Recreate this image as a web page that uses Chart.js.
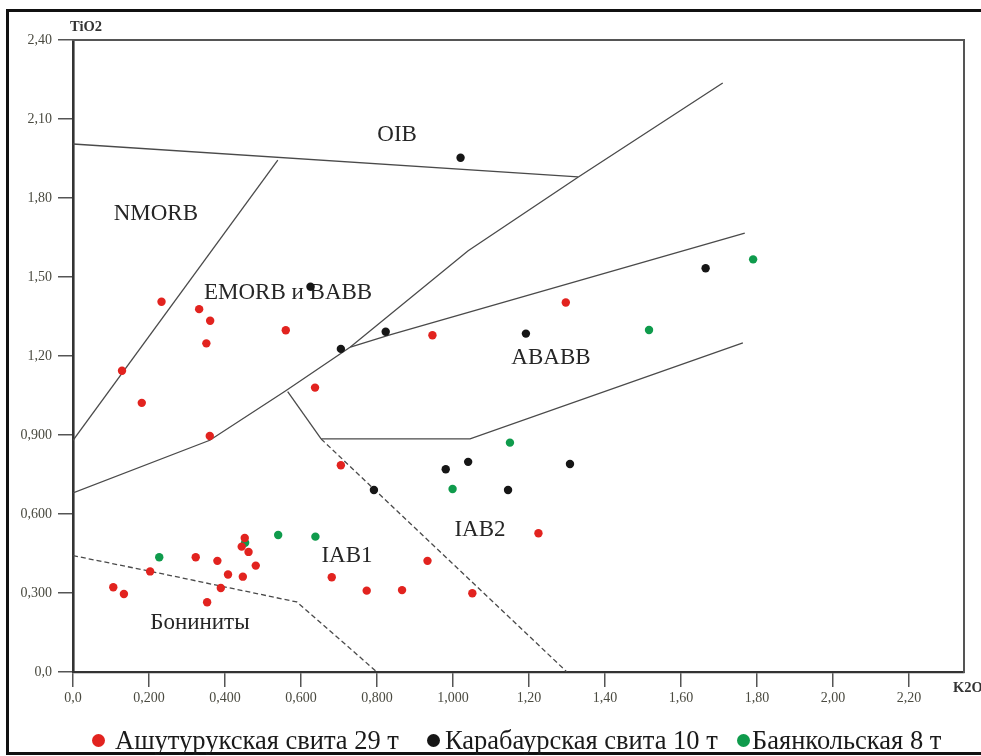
<!DOCTYPE html>
<html>
<head>
<meta charset="utf-8">
<title>K2O – TiO2</title>
<script src="https://cdn.jsdelivr.net/npm/chart.js@4.4.1/dist/chart.umd.min.js"></script>
<style>
  html, body { margin: 0; padding: 0; background: #fff; overflow: hidden; }
  #wrap { position: relative; width: 981px; height: 756px; }
  #frame { position: absolute; left: 6px; top: 9px; width: 1200px; height: 740px; border: 3px solid #111; pointer-events: none; }
  #legend { position: absolute; left: 0; top: 725px; width: 981px; height: 30px;
            font-family: "Liberation Serif", "DejaVu Serif", serif; font-size: 26.5px; color: #1a1a1a; }
  .txt { position: absolute; top: 0; white-space: nowrap; line-height: 30px; }
  .dot { position: absolute; top: 9px; width: 13px; height: 13px; border-radius: 50%; }
</style>
</head>
<body>
<div id="wrap">
  <canvas id="c"></canvas>
  <div id="frame"></div>
  <div id="legend"></div>
</div>
<script>
// Axis ticks (values and their printed labels)
const xTickValues = [0, 0.2, 0.4, 0.6, 0.8, 1.0, 1.2, 1.4, 1.6, 1.8, 2.0, 2.2];
const xTickLabels = ['0,0', '0,200', '0,400', '0,600', '0,800', '1,000', '1,20', '1,40', '1,60', '1,80', '2,00', '2,20'];
const yTickValues = [0, 0.3, 0.6, 0.9, 1.2, 1.5, 1.8, 2.1, 2.4];
const yTickLabels = ['0,0', '0,300', '0,600', '0,900', '1,20', '1,50', '1,80', '2,10', '2,40'];

// Ашутурукская свита
const ashK2O  = [0.233, 0.332, 0.361, 0.351, 0.560, 0.129, 0.181, 0.360, 0.637, 0.946, 1.297,
                 0.106, 0.134, 0.203, 0.323, 0.380, 0.389, 0.353, 0.408, 0.447, 0.444, 0.452, 0.462, 0.481,
                 0.681, 0.773, 0.866, 0.933, 1.051, 1.225, 0.705];
const ashTiO2 = [1.406, 1.378, 1.334, 1.248, 1.298, 1.144, 1.022, 0.896, 1.080, 1.279, 1.403,
                 0.322, 0.296, 0.382, 0.436, 0.422, 0.319, 0.265, 0.370, 0.362, 0.476, 0.509, 0.456, 0.404,
                 0.360, 0.309, 0.311, 0.422, 0.299, 0.527, 0.785];

// Карабаурская свита
const karK2O  = [1.020, 0.625, 0.823, 0.705, 1.192, 1.665, 0.981, 1.040, 1.308, 1.145, 0.792];
const karTiO2 = [1.953, 1.463, 1.292, 1.227, 1.285, 1.533, 0.770, 0.798, 0.790, 0.691, 0.691];

// Баянкольская
const bayK2O  = [0.227, 0.540, 0.638, 0.453, 1.150, 0.999, 1.516, 1.790];
const bayTiO2 = [0.436, 0.520, 0.514, 0.491, 0.871, 0.695, 1.299, 1.567];

// Field boundaries, [K2O, TiO2] vertices
const oibLine     = [[0, 2.005], [1.329, 1.880]];
const nmorbLine   = [[0, 0.880], [0.539, 1.944]];
const mainLine    = [[0, 0.680], [0.36, 0.880], [0.56, 1.068], [0.73, 1.234], [1.04, 1.600], [1.33, 1.880], [1.71, 2.237]];
const ababbUpper  = [[0.73, 1.234], [0.834, 1.280], [1.768, 1.667]];
const ababbLower  = [[0.653, 0.885], [1.045, 0.885], [1.763, 1.250]];
const iabStem     = [[0.565, 1.065], [0.653, 0.885]];
const iabLine     = [[0.653, 0.885], [1.300, 0.000]];
const boniniteLine = [[0, 0.442], [0.198, 0.384], [0.589, 0.266], [0.800, 0.000]];

// Field names and their anchor points
const regionNames = ['OIB', 'NMORB', 'EMORB и BABB', 'ABABB', 'IAB2', 'IAB1', 'Бониниты'];
const regionK2O   = [0.853, 0.218, 0.566, 1.258, 1.071, 0.721, 0.334];
const regionTiO2  = [2.039, 1.739, 1.439, 1.193, 0.539, 0.441, 0.186];

const seriesNames  = ['Ашутурукская свита 29 т', 'Карабаурская свита 10 т', 'Баянкольская 8 т'];
const seriesColors = ['#e2231f', '#161616', '#0f9b4c'];

const toPts = (xs, ys) => xs.map((x, i) => ({ x: x, y: ys[i] }));
const toLine = v => v.map(p => ({ x: p[0], y: p[1] }));

function pointSet(i, xs, ys) {
  return { label: seriesNames[i], data: toPts(xs, ys), backgroundColor: seriesColors[i],
           borderColor: seriesColors[i], borderWidth: 0, pointRadius: 4.2, pointHoverRadius: 4.2, order: 0 };
}
function lineSet(v, dash) {
  return { label: '', data: toLine(v), showLine: true, pointRadius: 0, pointHoverRadius: 0,
           borderColor: '#4a4a4a', borderWidth: 1.3, borderDash: dash || [], fill: false, order: 1 };
}

const labelPlugin = {
  id: 'fieldLabels',
  beforeDatasetsDraw(chart) {
    const { ctx } = chart;
    const xs = chart.scales.x, ys = chart.scales.y;
    ctx.save();
    ctx.font = '23px "Liberation Serif", "DejaVu Serif", serif';
    ctx.fillStyle = '#262626';
    ctx.textAlign = 'center';
    ctx.textBaseline = 'middle';
    regionNames.forEach((n, i) => {
      ctx.fillText(n, xs.getPixelForValue(regionK2O[i]), ys.getPixelForValue(regionTiO2[i]));
    });
    ctx.restore();
  },
  afterDraw(chart) {
    const { ctx, chartArea } = chart;
    ctx.save();
    ctx.font = 'bold 14.5px "Liberation Serif", "DejaVu Serif", serif';
    ctx.fillStyle = '#333';
    ctx.textBaseline = 'middle';
    ctx.textAlign = 'left';
    ctx.fillText('TiO2', chartArea.left - 3, chartArea.top - 13);
    ctx.fillText('K2O', chartArea.right - 11, chartArea.bottom + 16);
    ctx.restore();
  }
};

const tickFont = { family: '"Liberation Serif", "DejaVu Serif", serif', size: 14 };

new Chart(document.getElementById('c'), {
  type: 'scatter',
  data: {
    datasets: [
      pointSet(0, ashK2O, ashTiO2),
      pointSet(1, karK2O, karTiO2),
      pointSet(2, bayK2O, bayTiO2),
      lineSet(oibLine), lineSet(nmorbLine), lineSet(mainLine), lineSet(ababbUpper),
      lineSet(ababbLower), lineSet(iabStem), lineSet(iabLine, [5, 3]), lineSet(boniniteLine, [5, 3])
    ]
  },
  options: {
    responsive: true,
    maintainAspectRatio: false,
    animation: false,
    events: [],
    layout: { padding: { left: 0, top: 40, right: 17, bottom: 44 } },
    plugins: { legend: { display: false }, tooltip: { enabled: false } },
    scales: {
      x: {
        type: 'linear', position: 'bottom', min: 0, max: 2.345,
        afterBuildTicks: s => { s.ticks = xTickValues.map(v => ({ value: v })); },
        afterFit: s => { s.height = 40; },
        ticks: { callback: (v, i) => xTickLabels[i], font: tickFont, color: '#4a4a40', padding: 3, maxRotation: 0, autoSkip: false },
        grid: { drawOnChartArea: false, drawTicks: true, tickLength: 15, color: '#555', lineWidth: 1.5 },
        border: { display: true, color: '#333', width: 2.2 }
      },
      y: {
        type: 'linear', position: 'left', min: 0, max: 2.4,
        afterBuildTicks: s => { s.ticks = yTickValues.map(v => ({ value: v })); },
        afterFit: s => { s.width = 73; },
        ticks: { callback: (v, i) => yTickLabels[i], font: tickFont, color: '#4a4a40', padding: 6, autoSkip: false },
        grid: { drawOnChartArea: false, drawTicks: true, tickLength: 15, color: '#555', lineWidth: 1.5 },
        border: { display: true, color: '#333', width: 2.6 }
      },
      xTop: {
        type: 'linear', position: 'top', min: 0, max: 1,
        afterFit: s => { s.height = 0; },
        ticks: { display: false }, grid: { display: false },
        border: { display: true, color: '#555', width: 2 }
      },
      yRight: {
        type: 'linear', position: 'right', min: 0, max: 1,
        afterFit: s => { s.width = 0; },
        ticks: { display: false }, grid: { display: false },
        border: { display: true, color: '#555', width: 2 }
      }
    }
  },
  plugins: [labelPlugin]
});

// Legend row under the chart: marker and caption for each series
const legendDotX  = [92, 427, 737];
const legendTextX = [115, 445, 752];
const legend = document.getElementById('legend');
seriesNames.forEach((n, i) => {
  const d = document.createElement('span');
  d.className = 'dot';
  d.style.left = legendDotX[i] + 'px';
  d.style.background = seriesColors[i];
  legend.appendChild(d);
  const t = document.createElement('span');
  t.className = 'txt';
  t.style.left = legendTextX[i] + 'px';
  t.textContent = n;
  legend.appendChild(t);
});
</script>
</body>
</html>
